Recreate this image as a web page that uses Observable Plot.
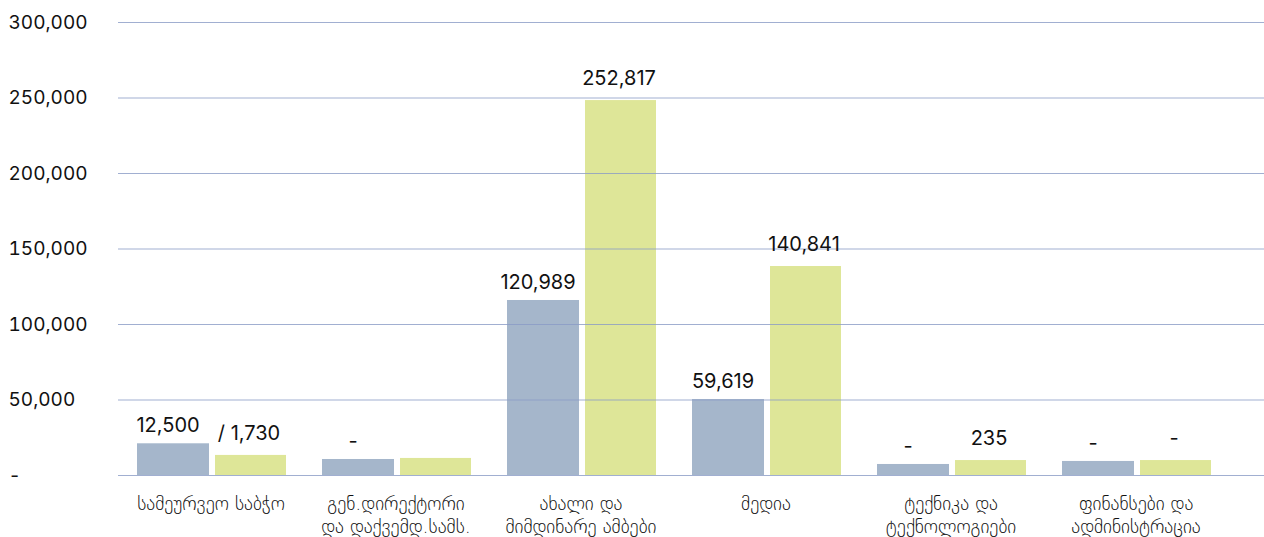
<!DOCTYPE html>
<html>
<head>
<meta charset="utf-8">
<script src="https://cdn.jsdelivr.net/npm/d3@7"></script>
<script src="https://cdn.jsdelivr.net/npm/@observablehq/plot@0.6"></script>
<style>
  html, body { margin: 0; padding: 0; background: #fff; }
  #chart svg { display: block; }
</style>
</head>
<body>
<div id="chart"></div>
<script>
// Categories (Georgian labels, line breaks as in the reference)
const categories = [
  "სამეურვეო საბჭო",
  "გენ.დირექტორი\nდა დაქვემდ.სამს.",
  "ახალი და\nმიმდინარე ამბები",
  "მედია",
  "ტექნიკა და\nტექნოლოგიები",
  "ფინანსები და\nადმინისტრაცია"
];
// Bar heights
const seriesA = [21000, 10600, 115900, 50300, 7300, 9300];
const seriesB = [13300, 11300, 248300, 138400, 9900, 9900];
// Labels printed above the bars
const labelsA = ["12,500", "-", "120,989", "59,619", "-", "-"];
const labelsB = ["/ 1,730", "", "252,817", "140,841", "235", "-"];
// Y tick values
const yTicks = [0, 50000, 100000, 150000, 200000, 250000, 300000];

const rowsA = categories.map((c, i) => ({cat: c, v: seriesA[i], label: labelsA[i]}));
const rowsB = categories.map((c, i) => ({cat: c, v: seriesB[i], label: labelsB[i]}));

const numFont = "Inter, Roboto, sans-serif";
const geoFont = "'DejaVu Sans', 'Noto Sans', sans-serif";

const chart = Plot.plot({
  width: 1264,
  height: 537,
  marginLeft: 118,
  marginRight: 0,
  marginTop: 22,
  marginBottom: 62,
  style: {fontFamily: numFont, background: "#fff", overflow: "visible"},
  x: {domain: categories, range: [118, 1228], padding: 0},
  y: {domain: [0, 300000]},
  marks: [
    Plot.barY(rowsA, {x: "cat", y: "v", fill: "#a5b6cb", insetLeft: 19, insetRight: 94}),
    Plot.barY(rowsB, {x: "cat", y: "v", fill: "#dee698", insetLeft: 97, insetRight: 17}),
    Plot.ruleY(yTicks, {stroke: "#8a9bc6", strokeOpacity: 0.8, strokeWidth: 1.2}),
    Plot.text(rowsA, {x: "cat", y: "v", text: "label", dx: -43, dy: -18, fontSize: 20, fill: "#111", lineAnchor: "middle"}),
    Plot.text(rowsB, {x: "cat", y: "v", text: "label", dx: 38, dy: -22, fontSize: 20, fill: "#111", lineAnchor: "middle"}),
    Plot.axisY({
      ticks: yTicks,
      tickSize: 0,
      tickPadding: 0,
      textAnchor: "start",
      dx: -110,
      fontSize: 19,
      fill: "#111",
      label: null,
      tickFormat: d => d === 0 ? "-" : d3.format(",")(d)
    }),
    Plot.axisX({
      tickSize: 0,
      tickPadding: 19,
      fontSize: 19,
      fontFamily: geoFont,
      fontWeight: 300,
      fill: "#111",
      label: null,
      lineHeight: 1.17
    })
  ]
});
document.getElementById("chart").appendChild(chart);
</script>
</body>
</html>
